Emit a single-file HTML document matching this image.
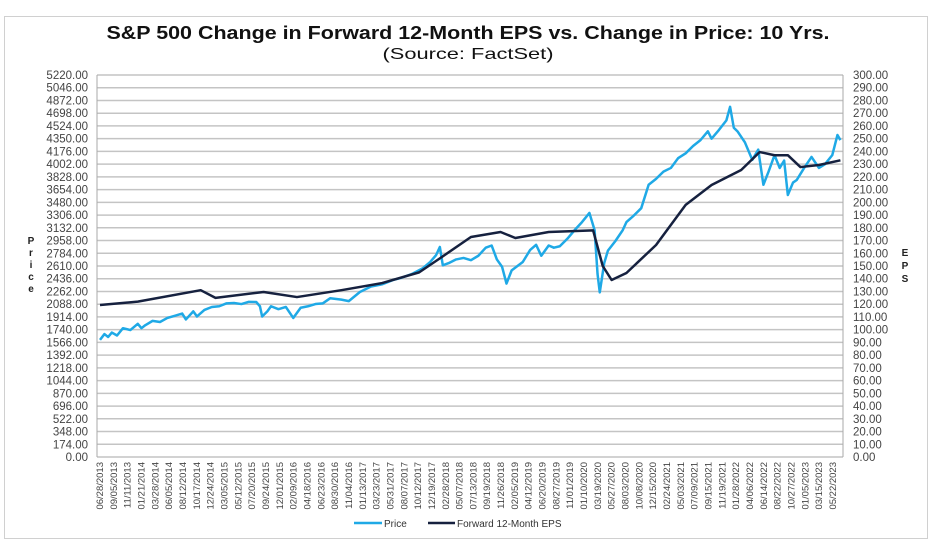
<!DOCTYPE html>
<html><head><meta charset="utf-8"><style>
body{margin:0;background:#fff;font-family:"Liberation Sans",sans-serif;}
#frame{position:absolute;left:4px;top:16px;width:924px;height:523px;border:1px solid #d0d0d0;box-sizing:border-box;}
</style></head><body>
<div id="frame"></div>
<svg id="c" width="936" height="547" style="position:absolute;left:0;top:0">
<text x="468" y="39" text-anchor="middle" font-size="18" font-weight="bold" fill="#111" textLength="723" lengthAdjust="spacingAndGlyphs">S&amp;P 500 Change in Forward 12-Month EPS vs. Change in Price: 10 Yrs.</text>
<text x="468" y="59" text-anchor="middle" font-size="16" fill="#111" textLength="171" lengthAdjust="spacingAndGlyphs">(Source: FactSet)</text>
<g id="grid"></g><g id="ylab"></g><g id="y2lab"></g><g id="xlab"></g><g id="series"></g>
<g font-size="10" font-weight="bold" fill="#222" text-anchor="middle">
<text x="31" y="244">P</text><text x="31" y="256">r</text><text x="31" y="268">i</text><text x="31" y="280">c</text><text x="31" y="292">e</text></g>
<g font-size="10" font-weight="bold" fill="#222" text-anchor="middle">
<text x="905" y="256">E</text><text x="905" y="269">P</text><text x="905" y="282">S</text></g>
<g font-size="10" fill="#333">
<line x1="354" y1="523" x2="382" y2="523" stroke="#1fa9e6" stroke-width="2.5"/>
<text x="384" y="527">Price</text>
<line x1="428" y1="523" x2="455" y2="523" stroke="#16213f" stroke-width="2.5"/>
<text x="457" y="527">Forward 12-Month EPS</text>
</g>
</svg>
<script>
const priceYears=[2013.49,2013.55,2013.6,2013.65,2013.72,2013.8,2013.9,2014.0,2014.05,2014.1,2014.2,2014.3,2014.4,2014.5,2014.6,2014.65,2014.75,2014.8,2014.9,2015.0,2015.1,2015.2,2015.3,2015.4,2015.5,2015.6,2015.65,2015.68,2015.75,2015.8,2015.9,2016.0,2016.1,2016.2,2016.3,2016.4,2016.5,2016.6,2016.75,2016.85,2017.0,2017.15,2017.3,2017.45,2017.55,2017.7,2017.85,2017.95,2018.03,2018.08,2018.12,2018.2,2018.3,2018.4,2018.5,2018.6,2018.7,2018.78,2018.85,2018.92,2018.98,2019.05,2019.2,2019.3,2019.38,2019.45,2019.55,2019.62,2019.7,2019.8,2019.9,2020.0,2020.1,2020.17,2020.21,2020.24,2020.3,2020.35,2020.45,2020.55,2020.6,2020.7,2020.8,2020.9,2021.0,2021.1,2021.2,2021.3,2021.4,2021.5,2021.6,2021.7,2021.75,2021.85,2021.95,2022.0,2022.05,2022.1,2022.2,2022.3,2022.38,2022.45,2022.52,2022.6,2022.67,2022.73,2022.78,2022.85,2022.9,2023.0,2023.1,2023.2,2023.28,2023.38,2023.45,2023.49];
const priceValues=[1600,1680,1640,1700,1660,1760,1735,1820,1760,1800,1860,1845,1900,1930,1960,1880,1990,1920,2010,2050,2060,2100,2104,2090,2120,2118,2060,1920,1990,2060,2020,2050,1900,2040,2060,2090,2100,2170,2150,2130,2255,2330,2360,2420,2445,2500,2580,2665,2760,2870,2620,2650,2700,2720,2690,2750,2860,2890,2700,2600,2370,2550,2665,2830,2900,2750,2890,2860,2880,2980,3100,3210,3335,3100,2500,2250,2650,2820,2950,3100,3210,3300,3400,3720,3800,3900,3950,4085,4150,4250,4330,4450,4350,4470,4600,4785,4500,4450,4300,4060,4200,3720,3900,4125,3950,4050,3580,3750,3785,3950,4100,3950,4000,4125,4400,4330];
const epsYears=[2013.49,2014.0,2014.85,2015.05,2015.7,2016.15,2016.75,2017.3,2017.8,2018.08,2018.5,2018.9,2019.1,2019.55,2020.15,2020.28,2020.4,2020.6,2021.0,2021.4,2021.75,2022.15,2022.4,2022.6,2022.78,2022.95,2023.2,2023.49];
const epsValues=[119.4,122,131,125,129.6,125.6,131,136.6,145,156,172.8,176.7,172,176.7,178,150,139,144.5,166.5,198,213.6,225.4,239.5,237,237,227.7,229.3,233];
const priceTicks=["0.00","174.00","348.00","522.00","696.00","870.00","1044.00","1218.00","1392.00","1566.00","1740.00","1914.00","2088.00","2262.00","2436.00","2610.00","2784.00","2958.00","3132.00","3306.00","3480.00","3654.00","3828.00","4002.00","4176.00","4350.00","4524.00","4698.00","4872.00","5046.00","5220.00"];
const epsTicks=["0.00","10.00","20.00","30.00","40.00","50.00","60.00","70.00","80.00","90.00","100.00","110.00","120.00","130.00","140.00","150.00","160.00","170.00","180.00","190.00","200.00","210.00","220.00","230.00","240.00","250.00","260.00","270.00","280.00","290.00","300.00"];
const dateLabels=["06/28/2013","09/05/2013","11/11/2013","01/21/2014","03/28/2014","06/05/2014","08/12/2014","10/17/2014","12/24/2014","03/05/2015","05/12/2015","07/20/2015","09/24/2015","12/01/2015","02/09/2016","04/18/2016","06/23/2016","08/30/2016","11/04/2016","01/13/2017","03/23/2017","05/31/2017","08/07/2017","10/12/2017","12/19/2017","02/28/2018","05/07/2018","07/13/2018","09/19/2018","11/26/2018","02/05/2019","04/12/2019","06/20/2019","08/27/2019","11/01/2019","01/10/2020","03/19/2020","05/27/2020","08/03/2020","10/08/2020","12/15/2020","02/24/2021","05/03/2021","07/09/2021","09/15/2021","11/19/2021","01/28/2022","04/06/2022","06/14/2022","08/22/2022","10/27/2022","01/05/2023","03/15/2023","05/22/2023"];

const L=97,R=843,T=75,B=457;
const x0=2013.49,x1=2023.39,px0=100,px1=833;
const xs=v=>px0+(v-x0)/(x1-x0)*(px1-px0);
const yP=v=>B-v/5220*(B-T);
const yE=v=>B-v/300*(B-T);
const NS="http://www.w3.org/2000/svg";
function mk(tag,attrs,parent){const e=document.createElementNS(NS,tag);for(const k in attrs)e.setAttribute(k,attrs[k]);parent.appendChild(e);return e;}
const grid=document.getElementById('grid'),yl=document.getElementById('ylab'),y2=document.getElementById('y2lab'),xl=document.getElementById('xlab'),ser=document.getElementById('series');
priceTicks.forEach((t,i)=>{
  const y=yP(+t);
  const g=mk('line',{x1:L,x2:R,y1:y,y2:y,stroke:'#c4c4c4','stroke-width':1.5},grid);
  
  
  const tx=mk('text',{x:88,y:y+4,'text-anchor':'end','font-size':11.5,fill:'#444'},yl);tx.textContent=t;
  
  
});
epsTicks.forEach(t=>{
  const y=yE(+t);
  const tx=mk('text',{x:853,y:y+4,'font-size':11.5,fill:'#444'},y2);tx.textContent=t;
  
  
});
const ax=mk('line',{x1:L,x2:L,y1:T,y2:B,stroke:'#aaa','stroke-width':1},grid);


const ax2=mk('line',{x1:R,x2:R,y1:T,y2:B,stroke:'#aaa','stroke-width':1},grid);


dateLabels.forEach((d,i)=>{
  const x=px0+i*(px1-px0)/(dateLabels.length-1);
  const tx=mk('text',{transform:`translate(${x+3},462) rotate(-90)`,'text-anchor':'end','font-size':9.5,fill:'#444'},xl);tx.textContent=d;
  
  
});
const pp=mk('polyline',{points:priceYears.map((v,i)=>xs(v)+','+yP(priceValues[i])).join(' '),fill:'none',stroke:'#1fa9e6','stroke-width':2.5,'stroke-linejoin':'round'},ser);


const ep=mk('polyline',{points:epsYears.map((v,i)=>xs(v)+','+yE(epsValues[i])).join(' '),fill:'none',stroke:'#16213f','stroke-width':2.5,'stroke-linejoin':'round'},ser);


</script>
</body></html>
